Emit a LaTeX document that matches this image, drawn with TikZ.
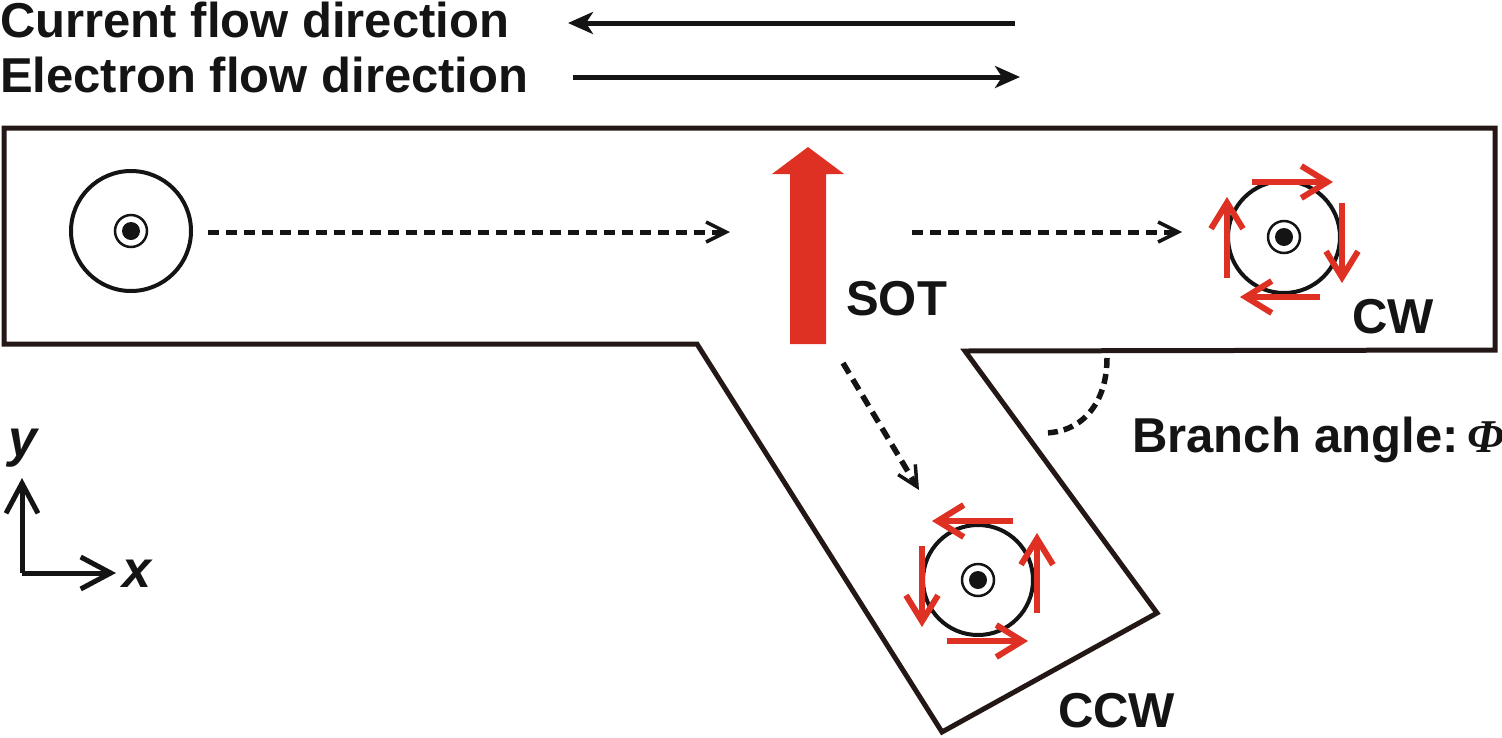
\documentclass[tikz,border=0pt]{standalone}
\usepackage{fontspec}
\setmainfont{Liberation Sans}
\newfontfamily\serifit{Liberation Serif}
\usetikzlibrary{arrows.meta}
\definecolor{ink}{RGB}{35,24,21}
\definecolor{txt}{RGB}{20,20,20}
\definecolor{sotred}{RGB}{222,49,36}
\begin{document}
\begin{tikzpicture}[x=1pt,y=-1pt,
  lbl/.style={font=\fontsize{49}{53}\selectfont\bfseries, inner sep=0, anchor=base west, text=txt},
  axlbl/.style={font=\fontsize{52}{56}\selectfont\bfseries\itshape, inner sep=0, anchor=base west, text=txt},
  outline/.style={draw=ink, line width=5pt, line join=miter},
  skout/.style={circle, draw=txt, line width=4pt, minimum size=#1, inner sep=0},
  skin/.style={circle, draw=txt, line width=2.5pt, minimum size=32pt, inner sep=0},
  skdot/.style={circle, fill=txt, minimum size=18pt, inner sep=0},
  rarrow/.style={draw=sotred, line width=6pt, -{Straight Barb[length=26pt,width=32pt]}},
  dasharrow/.style={draw=txt, line width=5pt, dash pattern=on 11pt off 7pt, -{Straight Barb[length=20pt,width=20pt,line width=3.5pt]}},
  flowarrow/.style={draw=txt, line width=5pt, -{Stealth[length=25pt,width=22pt,inset=7pt]}},
  axarrow/.style={draw=txt, line width=5pt, -{Straight Barb[length=30pt,width=32pt]}},
]
\useasboundingbox (0,0) rectangle (1502,737);

% top labels and flow arrows
\node[lbl] (cur) at (0,37) {Current flow direction};
\node[lbl] (ele) at (0,92) {Electron flow direction};
\coordinate (curS) at (1015,23);
\coordinate (curE) at (568,23);
\coordinate (eleS) at (573,77);
\coordinate (eleE) at (1020,77);
\draw[flowarrow] (curS) -- (curE);
\draw[flowarrow] (eleS) -- (eleE);

% track outline
\draw[outline] (4,128) -- (1495,128) -- (1495,350) -- (965,351) -- (1157,613) -- (942,732) -- (697,344) -- (4,344) -- cycle;

% SOT arrow
\fill[sotred] (790,344) -- (790,174) -- (772,174) -- (808,147) -- (844,174) -- (826,174) -- (826,344) -- cycle;
\node[lbl] (sot) at (846,315) {SOT};

% skyrmion left
\node[skout=120pt] (s1) at (131,231) {};
\node[skin] (s1i) at (s1.center) {};
\node[skdot] (s1d) at (s1.center) {};

% skyrmion CW
\node[skout=112pt] (s2) at (1284,237) {};
\node[skin] (s2i) at (s2.center) {};
\node[skdot] (s2d) at (s2.center) {};
\begin{scope}[shift={(1284,237)}]
  \draw[rarrow] (-32,-55) -- (49,-55);
  \draw[rarrow] (58,-34) -- (58,46);
  \draw[rarrow] (36,60) -- (-44,60);
  \draw[rarrow] (-57,41) -- (-57,-40);
\end{scope}
\node[lbl] (cw) at (1352,333) {CW};

% skyrmion CCW
\node[skout=110pt] (s3) at (978,580) {};
\node[skin] (s3i) at (s3.center) {};
\node[skdot] (s3d) at (s3.center) {};
\begin{scope}[shift={(978,580)}]
  \draw[rarrow] (35,-59) -- (-46,-59);
  \draw[rarrow] (59,33) -- (59,-47);
  \draw[rarrow] (-31,61) -- (50,61);
  \draw[rarrow] (-56,-34) -- (-56,47);
\end{scope}
\node[lbl] (ccw) at (1058,727) {CCW};

% dashed motion arrows
\coordinate (d1s) at (208,232);
\coordinate (d1e) at (730,232);
\coordinate (d2s) at (912,232);
\coordinate (d2e) at (1182,232);
\coordinate (d3s) at (843,363);
\coordinate (d3e) at (919,490);
\draw[dasharrow] (d1s) -- (d1e);
\draw[dasharrow] (d2s) -- (d2e);
\draw[dasharrow, line width=5.5pt, dash pattern=on 12pt off 7pt] (d3s) -- (d3e);

% branch angle
\coordinate (a1) at (1107,358);
\coordinate (a2) at (1043,433);
\draw[draw=txt, line width=5.5pt, dash pattern=on 10pt off 6pt] (a1) .. controls (1107,402) and (1083,433) .. (a2);
\node[lbl] (ba) at (1132,452) {Branch angle:};
\node[lbl, font=\fontsize{47}{51}\selectfont\serifit\bfseries\itshape] (phi) at (1467,452) {Φ};

% axes
\coordinate (o) at (22,573);
\coordinate (ytip) at (22,478);
\coordinate (xtip) at (116,573);
\draw[axarrow] (o) -- (ytip);
\draw[axarrow] (o) -- (xtip);
\node[axlbl] (ylab) at (8,456) {y};
\node[axlbl] (xlab) at (122,587) {x};
\end{tikzpicture}
\end{document}
